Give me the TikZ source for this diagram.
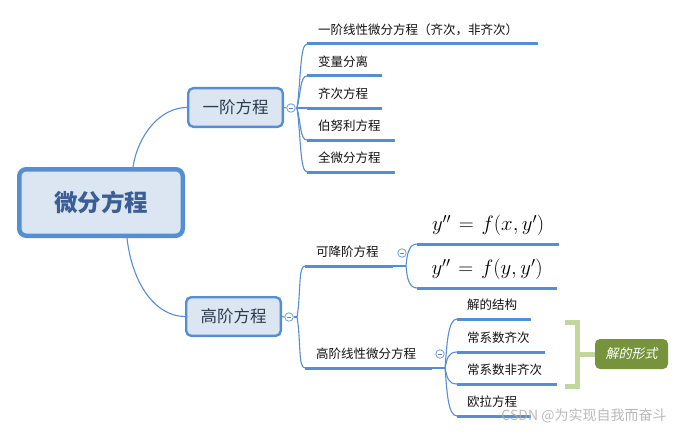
\documentclass[tikz,border=0pt]{standalone}
\usepackage[no-math]{fontspec}
\setmainfont{Noto Sans CJK SC}
\newfontfamily\cjkit[FakeSlant=0.2]{Noto Sans CJK SC}
\usetikzlibrary{calc}
\definecolor{lb}{HTML}{558ED5}
\definecolor{boxfill}{HTML}{DCE6F2}
\definecolor{roottext}{HTML}{3B5E94}
\definecolor{subtext}{HTML}{2E3A4E}
\definecolor{leaftext}{HTML}{111111}
\definecolor{brk}{HTML}{C4D79B}
\definecolor{olive}{HTML}{77933C}
\definecolor{wmgray}{HTML}{ADADAD}
\begin{document}
\begin{tikzpicture}[x=1pt,y=-1pt,
  rootbox/.style={draw=lb, line width=4.5pt, fill=boxfill, rounded corners=7pt,
    minimum width=163.5pt, minimum height=66.5pt, inner sep=0pt,
    font=\fontsize{23.5}{28}\selectfont\bfseries, text=roottext},
  subbox/.style={draw=lb, line width=2.4pt, fill=boxfill, rounded corners=5pt,
    minimum width=94.6pt, minimum height=38.6pt, inner sep=0pt,
    font=\fontsize{16.5}{20}\selectfont, text=subtext},
  leaf/.style={anchor=south west, inner xsep=11pt, inner ysep=7pt, text height=10pt,
    text depth=2pt, align=left, font=\fontsize{12.5}{15}\selectfont, text=leaftext},
  leafb/.style={leaf, inner xsep=10pt},
  formula/.style={anchor=south west, inner xsep=0pt, inner ysep=8pt, align=center,
    font=\fontsize{21}{25}\selectfont, text=black},
  uline/.style={draw=lb, line width=3pt},
  conn/.style={draw=lb, line width=1.1pt},
  circ/.style={circle, draw=lb!85, fill=white, line width=0.8pt, minimum size=8.5pt,
    inner sep=0pt, path picture={\draw[lb, line width=0.7pt]
      ([xshift=-2.3pt]path picture bounding box.center) --
      ([xshift=2.3pt]path picture bounding box.center);}},
  brace/.style={draw=brk, line width=5pt, line join=miter, line cap=butt},
  formbox/.style={fill=olive, rounded corners=5pt, minimum width=73pt, minimum height=30pt,
    inner sep=0pt, text=white, font=\fontsize{13}{16}\selectfont\cjkit},
  wm/.style={text=wmgray, opacity=0.85, font=\fontsize{14}{16}\selectfont, inner sep=0pt}
]
\useasboundingbox (0,0) rectangle (684,433);

% main nodes
\node[rootbox] (root) at (101,202.5) {微分方程};
\node[subbox] (n1) at (235.5,107.5) {一阶方程};
\node[subbox] (n2) at (233.5,316.5) {高阶方程};

\draw[conn] ([xshift=32pt]root.north) .. controls +(5,-32) and +(-27,0) .. (n1.west);
\draw[conn] ([xshift=26pt]root.south) .. controls +(5,45) and +(-30,0) .. (n2.west);

% first-order children
\node[circ] (c1) at (291,108) {};
\coordinate (s1) at (297,108);
\node[leaf, text width=209pt] (a1) at (307,44) {一阶线性微分方程（齐次，非齐次）};
\node[leaf, text width=53pt] (a2) at (307,76) {变量分离};
\node[leaf, text width=53pt] (a3) at (307,108) {齐次方程};
\node[leaf, text width=66pt] (a4) at (307,140) {伯努利方程};
\node[leaf, text width=66pt] (a5) at (307,172) {全微分方程};
\draw[conn] (n1.east) -- (c1.west);
\draw[conn] (c1.east) -- (a3.south west);
\draw[conn] (s1) .. controls +(4,-29) and +(-7,0) .. (a1.south west);
\draw[conn] (s1) .. controls +(4,-15) and +(-7,0) .. (a2.south west);
\draw[conn] (s1) .. controls +(4,15) and +(-7,0) .. (a4.south west);
\draw[conn] (s1) .. controls +(4,29) and +(-7,0) .. (a5.south west);
\foreach \n in {a1,a2,a3,a4,a5} \draw[uline] (\n.south west) -- (\n.south east);

% higher-order children
\node[circ] (c2) at (289,317) {};
\coordinate (s2) at (297,317);
\node[leaf, text width=66pt] (b1) at (305,266) {可降阶方程};
\node[leaf, text width=105pt] (b2) at (305,368) {高阶线性微分方程};
\draw[conn] (n2.east) -- (c2.west);
\draw[conn] (c2.east) -- (s2);
\draw[conn] (s2) .. controls +(4,-23) and +(-7,0) .. (b1.south west);
\draw[conn] (s2) .. controls +(4,23) and +(-7,0) .. (b2.south west);
\foreach \n in {b1,b2} \draw[uline] (\n.south west) -- (\n.south east);

% reducible-order formulas
\node[circ] (c3) at (402,253) {};
\coordinate (s3) at (406,266);
\node[formula, text width=142pt] (f1) at (417,244) {$y''=f(x,y')$};
\node[formula, text width=140pt] (f2) at (417,288) {$y''=f(y,y')$};
\draw[conn] (b1.south east) -- (s3);
\draw[conn] (s3) .. controls +(1,-12) and +(-8,0) .. (f1.south west);
\draw[conn] (s3) .. controls +(1,12) and +(-8,0) .. (f2.south west);
\foreach \n in {f1,f2} \draw[uline] (\n.south west) -- (\n.south east);

% linear higher-order children
\node[circ] (c4) at (440,354) {};
\coordinate (s4) at (445,368);
\node[leafb, text width=54pt] (d1) at (457,319) {解的结构};
\node[leafb, text width=68pt] (d2) at (457,352) {常系数齐次};
\node[leafb, text width=80pt] (d3) at (457,384) {常系数非齐次};
\node[leafb, text width=54pt] (d4) at (457,416) {欧拉方程};
\draw[conn] (b2.south east) -- (s4);
\draw[conn] (s4) .. controls +(2,-24) and +(-9,0) .. (d1.south west);
\draw[conn] (s4) .. controls +(2,-9) and +(-9,0) .. (d2.south west);
\draw[conn] (s4) .. controls +(2,9) and +(-9,0) .. (d3.south west);
\draw[conn] (s4) .. controls +(2,24) and +(-9,0) .. (d4.south west);
\foreach \n in {d1,d2,d3,d4} \draw[uline] (\n.south west) -- (\n.south east);

% bracket and summary
\node[formbox] (form) at (631.5,354) {解的形式};
\coordinate (bm) at (577,354);
\draw[brace] (565,322.5) -- (577,322.5) -- (577,386) -- (565,386);
\draw[brace] (bm) -- (form.west);

% watermark
\node[wm] (wmark) at (584,416) {CSDN @为实现自我而奋斗};
\end{tikzpicture}
\end{document}
